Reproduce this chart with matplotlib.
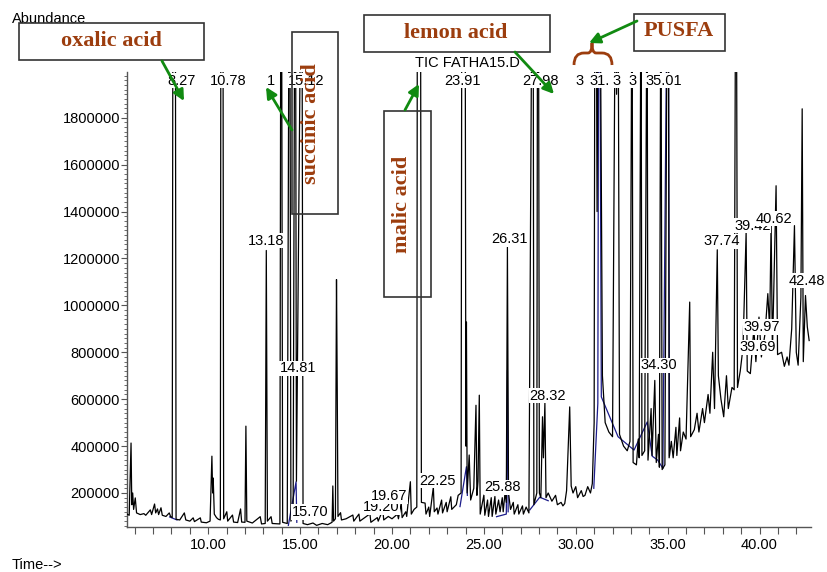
import matplotlib
matplotlib.use('Agg')
import matplotlib.pyplot as plt
from matplotlib.ticker import MultipleLocator, FuncFormatter
from matplotlib.patches import FancyArrowPatch, Rectangle, PathPatch
from matplotlib.path import Path

nan = float('nan')

# TIC trace (retention time in min, abundance in thousands)
rt_min = [
    5.58, 5.70, 5.80, 5.84, 5.89, 5.94, 6.03, 6.10, 6.30, 6.50, 6.60, 6.85, 6.92, 7.08, 7.14, 7.24,
    7.30, 7.43, 7.50, 7.70, 7.88, 7.95, 8.04, 8.08, 8.21, 8.25,
    8.45, 8.70, 8.78, 9.00, 9.18, 9.25, 9.57, 9.62, 9.90, 10.10, 10.20, 10.24, 10.27, 10.33, 10.45,
    10.55, 10.66, 10.69, 10.80, 10.84, 11.01, 11.06, 11.32, 11.38, 11.60, 11.76, 11.82, 12.00, 12.05, 12.10,
    12.40, 12.83, 12.90, 13.10, 13.16, 13.22, 13.42, 13.48, 13.90, 13.95, 13.99, 14.05, 14.30, 14.40,
    14.44, 14.50, 14.62, 14.71, 14.75, 14.80, 15.05, 15.10, 15.16, 15.40, 15.70, 15.90, 16.20, 16.50,
    16.74, 16.78, 16.82, 16.92, 16.98, 17.02, 17.06,
    17.20, 17.25, 17.50, 17.87, 17.92, 18.20, 18.25, 18.80, 18.85, 19.20, 19.25, 19.50, 19.55, 19.80,
    20.00, 20.30, 20.35, 20.50, 20.55, 20.75, 20.80, 21.00, 21.05, 21.20, 21.35, 21.38, 21.55, 21.60,
    21.80, 21.85, 22.00, 22.05, 22.25, 22.30, 22.45, 22.50, 22.70, 22.75, 22.95, 23.00, 23.20, 23.25,
    23.50, 23.60, 23.76, 23.80, 23.98, 24.02, 24.05, 24.09, 24.20, 24.28, 24.45, 24.57, 24.62, 24.68,
    24.75, 24.80,
    25.00, 25.05, 25.20, 25.25, 25.40, 25.45, 25.60, 25.65, 25.80, 25.88, 26.00, 26.05, 26.15, 26.22,
    26.28, 26.34, 26.45, 26.60, 26.65, 26.85, 26.90, 27.10, 27.15, 27.30, 27.45, 27.62, 27.68, 27.72,
    27.88, 27.92, 27.97, 28.02, 28.10, 28.19, 28.24, 28.32, 28.38,
    28.50, 28.70, 28.90, 29.00, 29.20, 29.30, 29.40, 29.50, 29.67, 29.75, 29.85, 30.00, 30.10, 30.30,
    30.40, 30.50, 30.65, 30.80, 30.90, 31.00, 31.04, 31.11, 31.16, 31.22, 31.32, 31.45,
    31.60, 31.80, 32.00, 32.16, 32.22, 32.30, 32.38, 32.60, 32.80, 32.95, 33.06, 33.12, 33.30, 33.40,
    33.45, 33.55, 33.60, 33.75, 33.88, 33.93, 34.10, 34.15, 34.30, 34.38, 34.50, 34.55, 34.63, 34.70,
    34.85, 34.98, 35.04, 35.08,
    35.20, 35.30, 35.45, 35.50, 35.65, 35.70, 35.85, 36.00, 36.20, 36.25, 36.45, 36.60, 36.70, 36.90,
    37.00, 37.20, 37.30, 37.45, 37.55, 37.70, 37.76, 37.90, 38.05, 38.20, 38.30, 38.50, 38.62, 38.70,
    38.74, 38.80, 38.95, 39.10, 39.27, 39.33, 39.50, 39.69, 39.80, 39.97, 40.10, 40.30, 40.45, 40.55,
    40.63, 40.70, 40.90, 40.98, 41.20, 41.35, 41.50, 41.60, 41.75, 41.90, 42.00, 42.10, 42.25, 42.32,
    42.38, 42.50, 42.60, 42.70,
]
abund_k = [
    110, 105, 413, 150, 200, 130, 179, 115, 108, 112, 105, 128, 108, 153, 115, 132,
    108, 137, 105, 100, 115, 100, 95, 2500, 2500, 88,
    85, 115, 85, 80, 94, 78, 94, 76, 73, 80, 357, 200, 264, 110, 95,
    88, 85, 2500, 2500, 90, 120, 80, 106, 76, 74, 132, 76, 75, 485, 80,
    72, 99, 68, 70, 1234, 80, 99, 70, 68, 2500, 2500, 75, 70, 2500,
    2500, 80, 120, 2500, 2500, 250, 2500, 2500, 70, 65, 72, 62, 70, 65,
    75, 230, 80, 90, 1110, 647, 100,
    116, 85, 90, 106, 80, 110, 80, 111, 75, 95, 80, 128, 85, 100,
    90, 110, 90, 157, 95, 120, 100, 248, 110, 130, 140, 2500, 2500, 160,
    157, 110, 140, 100, 225, 120, 136, 110, 170, 115, 160, 120, 184, 130,
    150, 190, 200, 2500, 2500, 400, 929, 200, 362, 170, 220, 574, 190, 250,
    617, 110,
    191, 105, 170, 100, 180, 100, 185, 110, 170, 120, 180, 120, 200, 160,
    1248, 200, 130, 160, 110, 150, 110, 145, 110, 140, 115, 2500, 2500, 150,
    200, 2500, 2500, 200, 180, 525, 350, 583, 180,
    200, 165, 190, 150, 160, 145, 155, 210, 567, 230, 200, 227, 180, 210,
    185, 190, 227, 200, 240, 500, 2500, 2500, 1400, 2500, 2500, 700,
    500, 460, 440, 2500, 1900, 2500, 450, 400, 380, 420, 2500, 330, 320, 430,
    350, 2500, 360, 380, 2500, 340, 560, 360, 680, 330, 450, 310, 2500, 300,
    320, 2500, 2500, 350,
    420, 350, 480, 360, 520, 380, 460, 430, 1014, 440, 470, 540, 460, 560,
    500, 620, 540, 800, 560, 1237, 700, 600, 525, 700, 560, 650, 640, 2500,
    2500, 650, 720, 820, 1312, 720, 709, 900, 760, 950, 780, 880, 1050, 900,
    1350, 800, 1510, 790, 800, 740, 780, 745, 900, 1340, 800, 745, 1035, 1838,
    760, 1042, 908, 850,
]

# integration baseline (blue), nan separates the visible pieces
base_rt = [7.90, 8.30, nan,
           14.36, 14.78, 14.82, nan,
           23.70, 24.05, 24.10, nan,
           25.69, 26.22, 26.28, 26.32, nan,
           27.50, 28.04, 28.50, nan,
           30.98, 31.20, 31.25, 31.30, 31.39, 32.30, 33.17, 33.89, 34.16, 34.46, 34.74,
           34.98, 35.04, 35.10]
base_k = [98, 85, nan,
          62, 248, 75, nan,
          142, 312, 190, nan,
          99, 110, 723, 120, nan,
          128, 182, 167, nan,
          220, 582, 2500, 2500, 610, 440, 383, 503, 357, 340, 305,
          2500, 2500, 360]

# peak labels as printed on the chromatogram
peak_labels = ['8.27', '10.78', '1', '15.12', '23.91', '27.98', '3', '31.', '3', '3', '35.01',
               '13.18', '14.81', '15.70', '19.20', '19.67', '22.25', '25.88', '26.31', '28.32',
               '34.30', '37.74', '39.42', '40.62', '39.97', '39.69', '42.48']
label_rt = [8.53, 11.09, 13.42, 15.33, 23.86, 28.10, 30.20, 31.30, 32.21, 33.08, 34.79,
            13.15, 14.89, 15.54, 19.40, 19.84, 22.45, 26.02, 26.41, 28.48,
            34.51, 37.93, 39.62, 40.76, 40.11, 39.89, 42.60]
label_k = [1957, 1957, 1957, 1957, 1957, 1957, 1957, 1957, 1957, 1957, 1957,
           1276, 732, 119, 140, 187, 252, 224, 1281, 614,
           745, 1273, 1340, 1369, 908, 822, 1106]

compounds = ['oxalic acid', 'succinic acid', 'malic acid', 'lemon acid', 'PUSFA']

W, H = 827, 572
brown = '#9c3d0e'
green = '#118a11'


def fp(x, y):
    # figure pixel (top-left origin) -> figure fraction
    return (x / W, 1 - y / H)


fig = plt.figure(figsize=(8.27, 5.72), dpi=100)
plt.rcParams['font.family'] = ['Liberation Sans', 'DejaVu Sans']
ax = fig.add_axes([127 / W, 1 - 527 / H, (811 - 127) / W, (527 - 72) / H])

ax.plot(base_rt, [v * 1000 for v in base_k], color='#1c1c8a', lw=0.9, zorder=2)
ax.plot(rt_min, [v * 1000 for v in abund_k], color='black', lw=0.9, zorder=3)

ax.set_xlim(5.58, 42.8)
ax.set_ylim(55000, 1995000)
for s in ['top', 'right']:
    ax.spines[s].set_visible(False)
for s in ['left', 'bottom']:
    ax.spines[s].set_color('#555555')
    ax.spines[s].set_linewidth(1.0)

ax.xaxis.set_major_locator(MultipleLocator(5))
ax.xaxis.set_minor_locator(MultipleLocator(1))
ax.xaxis.set_major_formatter(FuncFormatter(lambda v, p: '%.2f' % v))
ax.yaxis.set_major_locator(MultipleLocator(200000))
ax.yaxis.set_minor_locator(MultipleLocator(20000))
ax.yaxis.set_major_formatter(FuncFormatter(lambda v, p: '%d' % v))
ax.tick_params(axis='x', which='both', length=5, width=0.8, color='#555555',
               labelsize=10.5, pad=3)
ax.tick_params(axis='y', which='major', length=4, width=0.8, color='#555555',
               labelsize=10.5, pad=1)
ax.tick_params(axis='y', which='minor', length=2, width=0.6, color='#555555')

for txt, t, a in zip(peak_labels, label_rt, label_k):
    ax.text(t, a * 1000, txt, ha='center', va='center', fontsize=10.5, zorder=5,
            clip_on=False, bbox=dict(facecolor='white', edgecolor='none', pad=0.4))

fig.text(*fp(12, 19), 'Abundance', fontsize=10.5, ha='left', va='center')
fig.text(*fp(12, 565), 'Time-->', fontsize=10.5, ha='left', va='center')
fig.text(*fp(415, 63), 'TIC FATHA15.D', fontsize=10.5, ha='left', va='center')

# annotation boxes: (x0, y0, x1, y1) in pixels, text centre, rotation, filled
boxes = [
    ((19, 23, 204, 60), (111, 41), 0, True),
    ((292, 32, 338, 214), (311, 124), 90, False),
    ((384, 111, 431, 297), (402, 204), 90, False),
    ((364, 15, 550, 52), (456, 33), 0, True),
    ((634, 14, 725, 51), (679, 31), 0, True),
]
for name, (rect, tc, rot, filled) in zip(compounds, boxes):
    x0, y0, x1, y1 = rect
    fig.add_artist(Rectangle(fp(x0, y1), (x1 - x0) / W, (y1 - y0) / H,
                             transform=fig.transFigure, facecolor='white' if filled else 'none',
                             edgecolor='#333333', lw=1.2, zorder=6))
    fig.text(*fp(*tc), name, fontsize=16, fontweight='bold', family='Liberation Serif',
             color=brown, ha='center', va='center', rotation=rot, zorder=7)

arrows = [((162, 61), (184, 101)), ((292, 130), (266, 87)), ((405, 110), (419, 84)),
          ((515, 52), (554, 94)), ((637, 21), (589, 43))]
for a, b in arrows:
    fig.add_artist(FancyArrowPatch(fp(*a), fp(*b), transform=fig.transFigure,
                                   arrowstyle='-|>', mutation_scale=16, lw=2,
                                   color=green, shrinkA=0, shrinkB=0, zorder=8))

# curly brace over the PUSFA cluster
bp = [(574, 65), (574, 53), (584, 53), (588, 53), (592, 53), (592, 43),
      (592, 53), (596, 53), (602, 53), (612, 53), (612, 65)]
codes = [Path.MOVETO, Path.CURVE3, Path.CURVE3, Path.LINETO, Path.CURVE3, Path.CURVE3,
         Path.CURVE3, Path.CURVE3, Path.LINETO, Path.CURVE3, Path.CURVE3]
fig.add_artist(PathPatch(Path([fp(*p) for p in bp], codes), transform=fig.transFigure,
                         facecolor='none', edgecolor=brown, lw=2, zorder=8))

fig.savefig('out.png', dpi=100)
